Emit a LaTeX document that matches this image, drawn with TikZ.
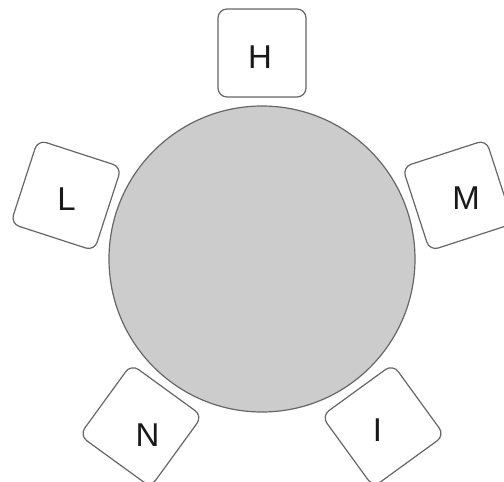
\documentclass[tikz,border=0pt]{standalone}
\usepackage{fontspec}
\setmainfont{Liberation Sans}
\begin{document}
\begin{tikzpicture}[x=1pt,y=-1pt,
  seat/.style={draw=black!60,line width=1.2pt,fill=white,rounded corners=9pt,minimum size=88pt,inner sep=0pt,shape=rectangle},
  seatlabel/.style={font=\fontsize{33}{33}\selectfont,text=black!90,inner sep=0pt},
  tablestyle/.style={draw=black!60,line width=1.2pt,fill=black!20,circle,minimum size=306pt,inner sep=0pt}]
\useasboundingbox (0,0) rectangle (504,482);
\clip (0,0) rectangle (504,482);
\node[tablestyle] (table) at (262,259) {};
\foreach \n/\a in {H/90, M/18, I/-54, N/-126, L/162}{
  \pgfmathsetmacro{\px}{262+206*cos(\a)}
  \pgfmathsetmacro{\py}{259-206*sin(\a)}
  \pgfmathsetmacro{\rt}{\a-90}
  \node[seat,rotate=\rt] (box\n) at (\px,\py) {};
}
\node[seatlabel] (labH) at (260,57) {H};
\node[seatlabel] (labM) at (466,198) {M};
\node[seatlabel] (labL) at (66.5,199.5) {L};
\node[seatlabel] (labN) at (147.5,435) {N};
\node[seatlabel] (labI) at (377.5,430.5) {I};
\end{tikzpicture}
\end{document}
